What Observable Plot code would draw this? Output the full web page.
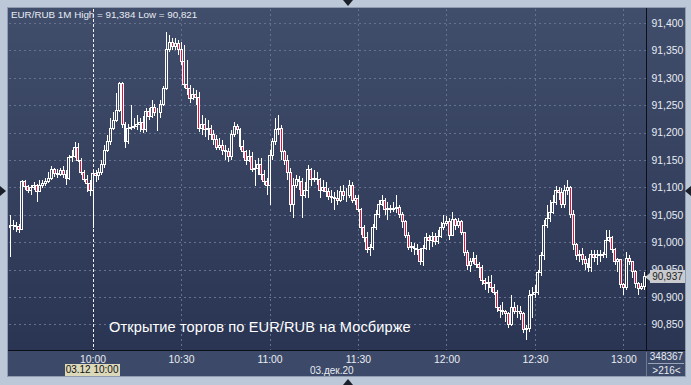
<!DOCTYPE html>
<html><head><meta charset="utf-8">
<script src="https://cdn.jsdelivr.net/npm/d3@7"></script>
<script src="https://cdn.jsdelivr.net/npm/@observablehq/plot@0.6"></script>
<style>
body{margin:0;background:#bcc8d8;}
#wrap{position:relative;width:691px;height:385px;background:#bcc8d8;overflow:hidden;font-family:"Liberation Sans",Arial,sans-serif;}
.abs{position:absolute;}
</style></head>
<body><div id="wrap"></div>
<script>
const title = "EUR/RUB 1M High = 91,384 Low = 90,821";
const caption = "Открытие торгов по EUR/RUB на Мосбирже";
const dateLabel = "03.дек.20";
const cursorLabel = "03.12 10:00";
const volumeLabel = "348367";
const countLabel = ">216<";
const xTickLabels = ["10:00","10:30","11:00","11:30","12:00","12:30","13:00"];
const yTicks = [90.85,90.90,90.95,91.00,91.05,91.10,91.15,91.20,91.25,91.30,91.35,91.40];
const startMinute = "09:32";

const open = [
91.026,91.031,91.030,91.028,91.024,91.110,91.101,91.095,91.099,91.103,
91.093,91.104,91.108,91.110,91.117,91.132,91.126,91.124,91.130,91.124,
91.117,91.154,91.157,91.172,91.150,91.128,91.115,91.108,91.095,91.126,
91.121,91.128,91.141,91.168,91.183,91.208,91.223,91.241,91.289,91.214,
91.183,91.208,91.210,91.212,91.214,91.219,91.205,91.238,91.230,91.245,
91.236,91.236,91.252,91.281,91.351,91.365,91.358,91.362,91.351,91.329,
91.287,91.281,91.263,91.269,91.265,91.208,91.214,91.205,91.208,91.196,
91.187,91.172,91.177,91.168,91.165,91.156,91.196,91.212,91.205,91.174,
91.165,91.150,91.157,91.132,91.135,91.141,91.123,91.110,91.104,91.159,
91.183,91.205,91.208,91.165,91.150,91.128,91.068,91.104,91.114,91.110,
91.086,91.095,91.132,91.114,91.117,91.114,91.095,91.099,91.092,91.083,
91.081,91.079,91.077,91.092,91.086,91.086,91.103,91.077,91.079,91.059,
91.026,91.008,90.986,90.991,91.026,91.050,91.068,91.077,91.059,91.062,
91.059,91.062,91.064,91.050,91.037,91.013,90.991,90.993,90.989,90.986,
90.964,90.989,91.008,91.004,91.011,91.002,91.010,91.026,91.035,91.037,
91.013,91.041,91.031,91.037,91.017,90.982,90.957,90.964,90.971,90.960,
90.953,90.931,90.924,90.926,90.918,90.909,90.880,90.876,90.873,90.869,
90.849,90.880,90.874,90.873,90.869,90.840,90.843,90.902,90.905,90.909,
90.944,90.975,91.030,91.044,91.055,91.073,91.095,91.090,91.068,91.095,
91.099,91.050,90.995,90.975,90.977,90.969,90.962,90.953,90.978,90.973,
90.977,90.975,90.978,91.004,91.008,90.986,90.964,90.968,90.922,90.918,
90.971,90.964,90.946,90.924,90.916,90.920];

const high = [
91.050,91.041,91.037,91.033,91.114,91.114,91.104,91.104,91.110,91.106,
91.114,91.114,91.117,91.128,91.139,91.135,91.134,91.135,91.139,91.132,
91.159,91.168,91.183,91.181,91.154,91.132,91.123,91.114,91.132,91.132,
91.135,91.150,91.177,91.196,91.227,91.238,91.272,91.292,91.292,91.219,
91.216,91.250,91.227,91.232,91.227,91.230,91.245,91.245,91.260,91.252,
91.245,91.260,91.285,91.384,91.378,91.373,91.373,91.369,91.365,91.360,
91.333,91.287,91.281,91.278,91.274,91.232,91.227,91.223,91.214,91.205,
91.196,91.190,91.187,91.177,91.172,91.205,91.219,91.216,91.208,91.187,
91.168,91.168,91.165,91.150,91.154,91.154,91.132,91.117,91.168,91.190,
91.227,91.232,91.214,91.168,91.159,91.135,91.117,91.123,91.121,91.117,
91.110,91.141,91.135,91.132,91.128,91.117,91.114,91.110,91.099,91.095,
91.092,91.095,91.103,91.104,91.099,91.114,91.110,91.086,91.086,91.062,
91.031,91.019,90.997,91.033,91.059,91.077,91.086,91.081,91.073,91.068,
91.073,91.086,91.068,91.055,91.041,91.019,91.000,90.999,90.997,90.989,
90.995,91.017,91.013,91.019,91.017,91.022,91.037,91.050,91.048,91.044,
91.055,91.044,91.044,91.041,91.019,90.986,90.971,90.982,90.977,90.964,
90.958,90.935,90.938,90.940,90.924,90.913,90.885,90.891,90.876,90.873,
90.904,90.891,90.885,90.884,90.873,90.849,90.913,90.918,90.922,90.949,
90.982,91.041,91.068,91.077,91.086,91.103,91.101,91.099,91.104,91.114,
91.103,91.059,90.998,90.986,90.989,90.975,90.971,90.986,90.986,90.986,
90.986,90.982,91.022,91.022,91.011,90.989,90.971,90.970,90.926,90.982,
90.977,90.964,90.949,90.928,90.926,90.946];

const low = [
90.973,91.022,91.019,91.017,91.022,91.095,91.090,91.086,91.095,91.073,
91.092,91.099,91.103,91.108,91.114,91.119,91.117,91.121,91.117,91.104,
91.114,91.146,91.154,91.146,91.123,91.110,91.092,91.084,91.026,91.110,
91.114,91.123,91.135,91.165,91.177,91.205,91.219,91.238,91.208,91.172,
91.179,91.205,91.207,91.205,91.201,91.199,91.201,91.223,91.227,91.230,
91.203,91.227,91.249,91.278,91.347,91.351,91.351,91.342,91.323,91.281,
91.269,91.254,91.260,91.250,91.201,91.196,91.192,91.187,91.187,91.177,
91.168,91.168,91.159,91.150,91.146,91.150,91.192,91.197,91.168,91.154,
91.141,91.146,91.128,91.103,91.123,91.114,91.104,91.086,91.068,91.150,
91.177,91.196,91.150,91.141,91.114,91.055,91.044,91.099,91.095,91.044,
91.081,91.081,91.103,91.110,91.104,91.081,91.092,91.083,91.077,91.072,
91.059,91.068,91.073,91.077,91.073,91.081,91.072,91.068,91.055,91.013,
91.000,90.980,90.975,90.986,91.022,91.044,91.066,91.050,91.041,91.053,
91.055,91.053,91.044,91.026,91.008,90.986,90.982,90.977,90.977,90.958,
90.957,90.986,90.986,90.991,90.995,90.997,91.008,91.022,91.030,91.004,
91.011,91.022,91.026,91.013,90.975,90.949,90.946,90.960,90.953,90.935,
90.922,90.913,90.907,90.909,90.904,90.873,90.862,90.867,90.854,90.843,
90.847,90.869,90.862,90.858,90.834,90.821,90.836,90.862,90.898,90.904,
90.938,90.968,91.026,91.037,91.051,91.068,91.077,91.062,91.062,91.086,
91.044,90.986,90.968,90.964,90.958,90.949,90.946,90.946,90.964,90.958,
90.964,90.971,90.971,91.000,90.980,90.958,90.946,90.916,90.904,90.913,
90.958,90.935,90.916,90.904,90.913,90.913];

const close = [
91.031,91.030,91.028,91.024,91.110,91.101,91.095,91.099,91.103,91.093,
91.104,91.108,91.110,91.117,91.132,91.126,91.124,91.130,91.124,91.117,
91.154,91.157,91.172,91.150,91.128,91.115,91.108,91.095,91.126,91.121,
91.128,91.141,91.168,91.183,91.208,91.223,91.241,91.289,91.214,91.183,
91.208,91.210,91.212,91.214,91.219,91.205,91.238,91.230,91.245,91.236,
91.236,91.252,91.281,91.351,91.365,91.358,91.362,91.351,91.329,91.287,
91.281,91.263,91.269,91.265,91.208,91.214,91.205,91.208,91.196,91.187,
91.172,91.177,91.168,91.165,91.156,91.196,91.212,91.205,91.174,91.165,
91.150,91.157,91.132,91.135,91.141,91.123,91.110,91.104,91.159,91.183,
91.205,91.208,91.165,91.150,91.128,91.068,91.104,91.114,91.110,91.086,
91.095,91.132,91.114,91.117,91.114,91.095,91.099,91.092,91.083,91.081,
91.079,91.077,91.092,91.086,91.086,91.103,91.077,91.079,91.059,91.026,
91.008,90.986,90.991,91.026,91.050,91.068,91.077,91.059,91.062,91.059,
91.062,91.064,91.050,91.037,91.013,90.991,90.993,90.989,90.986,90.964,
90.989,91.008,91.004,91.011,91.002,91.010,91.026,91.035,91.037,91.013,
91.041,91.031,91.037,91.017,90.982,90.957,90.964,90.971,90.960,90.953,
90.931,90.924,90.926,90.918,90.909,90.880,90.876,90.873,90.869,90.849,
90.880,90.874,90.873,90.869,90.840,90.843,90.902,90.905,90.909,90.944,
90.975,91.030,91.044,91.055,91.073,91.095,91.090,91.068,91.095,91.099,
91.050,90.995,90.975,90.977,90.969,90.962,90.953,90.978,90.973,90.977,
90.975,90.978,91.004,91.008,90.986,90.964,90.968,90.922,90.918,90.971,
90.964,90.946,90.924,90.916,90.920,90.937];

const day = "2020-12-03T";
const t0 = new Date(day + startMinute + ":00Z");
const data = close.map((c, i) => {
  const o = open[i];
  return {t: new Date(+t0 + i * 60000), o, c,
    h: Math.max(high[i], o, c), l: Math.min(low[i], o, c),
    top: Math.max(o, c), bot: Math.min(o, c), up: c >= o};
});
const xTicks = xTickLabels.map(s => new Date(day + s + ":00Z"));
const cursor = xTicks[0];
const lastClose = close[close.length - 1];
const fmtPrice = v => d3.format(".3f")(v).replace(".", ",");
const half = 20000;

const chart = Plot.plot({
  width: 691, height: 385,
  marginLeft: 9, marginRight: 45, marginTop: 9, marginBottom: 35,
  style: {background: "transparent", color: "#e8ecf2", fontFamily: "'Liberation Sans', Arial, sans-serif", fontSize: "10.4px"},
  x: {type: "utc", domain: [new Date(day + "09:31:40Z"), new Date(day + "13:07:40Z")],
      ticks: xTicks, tickFormat: d3.utcFormat("%H:%M"), tickSize: 0, tickPadding: 5, label: null},
  y: {domain: [90.8033, 91.4256], axis: "right", ticks: yTicks, tickFormat: fmtPrice,
      tickSize: 0, tickPadding: 5, label: null},
  marks: [
    Plot.ruleY(yTicks, {stroke: "#65728f", strokeDasharray: "2,3", shapeRendering: "crispEdges"}),
    Plot.ruleX(xTicks, {stroke: "#65728f", strokeDasharray: "2,3", shapeRendering: "crispEdges"}),
    Plot.ruleX([cursor], {stroke: "#f2f2f2", strokeDasharray: "3,2", shapeRendering: "crispEdges"}),
    Plot.ruleX(data, {x: "t", y1: "h", y2: "top", stroke: "#ffffff", strokeWidth: 1, shapeRendering: "crispEdges"}),
    Plot.ruleX(data, {x: "t", y1: "bot", y2: "l", stroke: "#ffffff", strokeWidth: 1, shapeRendering: "crispEdges"}),
    Plot.rect(data, {
      x1: d => new Date(+d.t - half), x2: d => new Date(+d.t + half),
      y1: "o", y2: "c",
      fill: d => d.up ? "none" : "#e3123f", stroke: "#ffffff", strokeWidth: 1,
      shapeRendering: "crispEdges"
    })
  ]
});

const wrap = document.getElementById("wrap");
function box(css, html) {
  const e = document.createElement("div");
  e.className = "abs";
  e.style.cssText = css;
  if (html != null) e.innerHTML = html;
  wrap.appendChild(e);
  return e;
}
const grad = "linear-gradient(#404d6b,#2a3553)";
box("left:7px;top:7px;width:679px;height:370px;background:#8f9bb0;");
box("left:8px;top:8px;width:638px;height:342px;background:" + grad + ";");
box("left:646px;top:8px;width:39px;height:342px;background:" + grad + ";");
box("left:8px;top:350px;width:677px;height:26px;background:#3c4968;");
box("left:8px;top:350px;width:677px;height:1px;background:#0c0f16;");
box("left:646px;top:8px;width:1px;height:343px;background:#0c0f16;");
box("left:646px;top:352px;width:1px;height:24px;background:#6e7a92;");
box("left:648px;top:363px;width:36px;height:1px;background:#9aa4b6;");

chart.style.position = "absolute";
chart.style.left = "0px";
chart.style.top = "0px";
wrap.appendChild(chart);

const txt = "color:#e8ecf2;white-space:nowrap;";
box("left:11px;top:9px;font-size:9.8px;line-height:12px;" + txt, title);
box("left:109px;top:318px;font-size:14.6px;line-height:18px;color:#ffffff;white-space:nowrap;letter-spacing:0.1px;", caption);
box("left:310px;top:365px;font-size:10px;line-height:12px;" + txt, dateLabel);
box("left:648px;top:351px;width:37px;text-align:center;font-size:10px;line-height:12px;" + txt, volumeLabel);
box("left:648px;top:365px;width:37px;text-align:center;font-size:10px;line-height:12px;" + txt, countLabel.replace("<", "&lt;").replace(">", "&gt;"));

const cx = chart.scale("x").apply(cursor);
box("left:" + (cx - 28) + "px;top:364px;width:55px;height:12px;background:#dcd9bb;color:#111;font-size:10px;line-height:12px;text-align:center;white-space:nowrap;", cursorLabel);

const py = chart.scale("y").apply(lastClose);
box("left:650px;top:" + (py - 6.5) + "px;width:35px;height:13px;background:#c9cbce;color:#1c1c1c;font-size:10px;line-height:13px;text-align:center;", fmtPrice(lastClose));
box("left:645px;top:" + (py - 4) + "px;width:0;height:0;border-top:4px solid transparent;border-bottom:4px solid transparent;border-right:5px solid #c9cbce;");

box("left:343px;top:0px;width:0;height:0;border-left:5px solid transparent;border-right:5px solid transparent;border-top:6px solid #1a1f2a;");
box("left:343px;top:379px;width:0;height:0;border-left:5px solid transparent;border-right:5px solid transparent;border-bottom:6px solid #1a1f2a;");
box("left:0px;top:186px;width:0;height:0;border-top:5px solid transparent;border-bottom:5px solid transparent;border-left:6px solid #1a1f2a;");
box("left:685px;top:186px;width:0;height:0;border-top:5px solid transparent;border-bottom:5px solid transparent;border-right:6px solid #1a1f2a;");
</script>
</body></html>
